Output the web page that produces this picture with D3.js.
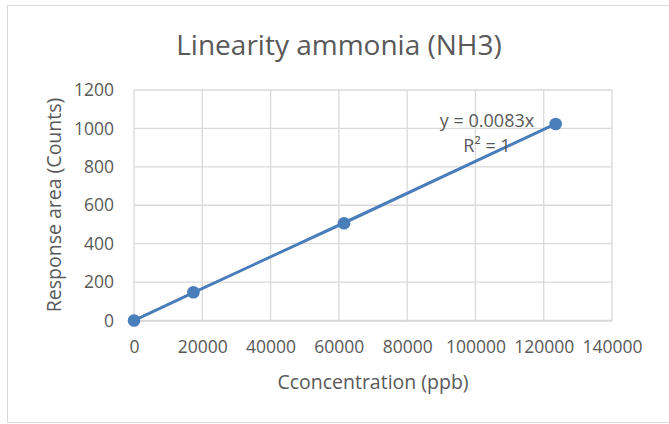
<!DOCTYPE html>
<html>
<head>
<meta charset="utf-8">
<script src="https://cdn.jsdelivr.net/npm/d3@7"></script>
<style>
  body { margin: 0; background: #fff; }
  text { font-family: "Open Sans", sans-serif; fill: #595959; }
</style>
</head>
<body>
<svg id="chart" width="669" height="424"></svg>
<script>
// data
const concentration = [0, 17400, 61500, 123500];
const responseArea = [0, 147, 506, 1023];
const xTicks = [0, 20000, 40000, 60000, 80000, 100000, 120000, 140000];
const yTicks = [0, 200, 400, 600, 800, 1000, 1200];
const slope = 0.0083;
const rSquared = 1;

const width = 669;
const height = 424;
const plotLeft = 134;
const plotRight = 612;
const plotTop = 90;
const plotBottom = 320.5;
const blue = "#4a7ebb";
const grid = "#d9d9d9";

const svg = d3.select("#chart");

// chart frame
svg.append("rect")
  .attr("x", 7.5).attr("y", 5.5)
  .attr("width", width).attr("height", 417)
  .attr("fill", "#fff").attr("stroke", grid);

const xScale = d3.scaleLinear().domain([0, 140000]).range([plotLeft, plotRight]);
const yScale = d3.scaleLinear().domain([0, 1200]).range([plotBottom, plotTop]);

// gridlines
svg.append("g").selectAll("line").data(yTicks).join("line")
  .attr("x1", plotLeft).attr("x2", plotRight)
  .attr("y1", (d) => yScale(d)).attr("y2", (d) => yScale(d))
  .attr("stroke", grid).attr("stroke-width", 1.3);
svg.append("g").selectAll("line").data(xTicks).join("line")
  .attr("x1", (d) => xScale(d)).attr("x2", (d) => xScale(d))
  .attr("y1", plotTop).attr("y2", plotBottom)
  .attr("stroke", grid).attr("stroke-width", 1.3);

// axes (labels only, Excel style)
const xAxis = d3.axisBottom(xScale).tickValues(xTicks).tickFormat(d3.format("d")).tickSize(0).tickPadding(20);
svg.append("g")
  .attr("transform", `translate(0,${plotBottom})`)
  .call(xAxis)
  .call((g) => g.select(".domain").attr("stroke", grid).attr("stroke-width", 1.3))
  .selectAll("text").attr("font-size", 17.5).attr("fill", "#595959")
  .style("font-family", "'Open Sans', sans-serif");

const yAxis = d3.axisLeft(yScale).tickValues(yTicks).tickFormat(d3.format("d")).tickSize(0).tickPadding(20);
svg.append("g")
  .attr("transform", `translate(${plotLeft},0)`)
  .call(yAxis)
  .call((g) => g.select(".domain").remove())
  .selectAll("text").attr("font-size", 17.5).attr("fill", "#595959")
  .style("font-family", "'Open Sans', sans-serif");

// trendline through origin
const xMax = d3.max(concentration);
const trend = d3.line().x((d) => xScale(d)).y((d) => yScale(d * slope));
svg.append("path")
  .attr("d", trend([0, xMax]))
  .attr("fill", "none").attr("stroke", blue).attr("stroke-width", 2.5);

// series line + markers
const points = concentration.map((c, i) => ({ x: c, y: responseArea[i] }));
const line = d3.line().x((d) => xScale(d.x)).y((d) => yScale(d.y));
svg.append("path")
  .attr("d", line(points))
  .attr("fill", "none").attr("stroke", blue).attr("stroke-width", 2.5);
svg.append("g").selectAll("circle").data(points).join("circle")
  .attr("cx", (d) => xScale(d.x)).attr("cy", (d) => yScale(d.y))
  .attr("r", 6.3).attr("fill", blue);

// trendline equation
svg.append("text")
  .attr("x", 487).attr("y", 127)
  .attr("text-anchor", "middle").attr("font-size", 18)
  .text(`y = ${slope}x`);
svg.append("text")
  .attr("x", 487).attr("y", 152)
  .attr("text-anchor", "middle").attr("font-size", 18)
  .text(`R² = ${rSquared}`);

// titles
svg.append("text")
  .attr("x", 339).attr("y", 55)
  .attr("text-anchor", "middle").attr("font-size", 28)
  .text("Linearity ammonia (NH3)");
svg.append("text")
  .attr("x", 373).attr("y", 389)
  .attr("text-anchor", "middle").attr("font-size", 19.5)
  .text("Cconcentration (ppb)");
svg.append("text")
  .attr("transform", "translate(61,205) rotate(-90)")
  .attr("text-anchor", "middle").attr("font-size", 19.5)
  .text("Response area (Counts)");
</script>
</body>
</html>
